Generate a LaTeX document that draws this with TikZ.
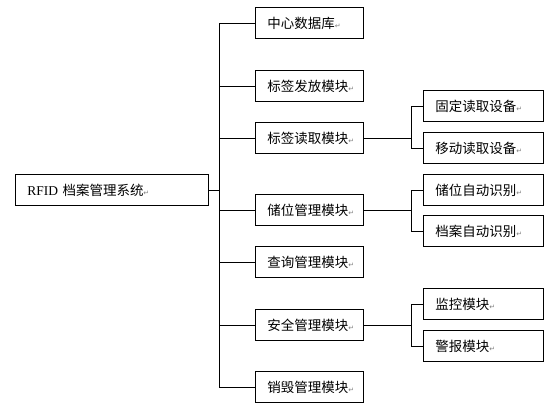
\documentclass[tikz,border=0pt]{standalone}
\usepackage{fontspec}
\setmainfont{Liberation Serif}
\newfontfamily\cjk{Noto Sans CJK SC}
\newfontfamily\symfont{DejaVu Sans}
\newcommand{\retmark}{{\symfont\fontsize{6}{6}\selectfont\color{gray}↵}}
\begin{document}
\begin{tikzpicture}[x=0.03cm,y=-0.03cm,
    box/.style={shape=rectangle,draw=black,line width=0.8pt,anchor=west,
        minimum height=0.93cm,inner xsep=0.36cm,align=left,
        font=\cjk\fontsize{11.5}{13}\selectfont},
    mainbox/.style={box,text width=2.52cm},
    subbox/.style={box,text width=2.88cm},
    rootbox/.style={box,text width=5.07cm},
    link/.style={line width=0.8pt}]
                \useasboundingbox (0,0) rectangle (560,420);

                \node[rootbox] (root) at (15,190) {{\rmfamily RFID} 档案管理系统\retmark};

                \node[mainbox] (db) at (255,23) {中心数据库\retmark};
                \node[mainbox] (issue) at (255,86) {标签发放模块\retmark};
                \node[mainbox] (read) at (255,138) {标签读取模块\retmark};
                \node[mainbox] (store) at (255,210) {储位管理模块\retmark};
                \node[mainbox] (query) at (255,262) {查询管理模块\retmark};
                \node[mainbox] (safe) at (255,325) {安全管理模块\retmark};
                \node[mainbox] (destroy) at (255,387) {销毁管理模块\retmark};

                \node[subbox] (fixed) at (423,106) {固定读取设备\retmark};
                \node[subbox] (mobile) at (423,148) {移动读取设备\retmark};
                \node[subbox] (slot) at (423,190) {储位自动识别\retmark};
                \node[subbox] (file) at (423,231) {档案自动识别\retmark};
                \node[subbox] (watch) at (423,304) {监控模块\retmark};
                \node[subbox] (alarm) at (423,346) {警报模块\retmark};

                \coordinate (trunk) at (219,0);
                \coordinate (fork) at (411,0);

                % root to the modules
                \draw[link] (root.east) -- (root.east -| trunk);
                \draw[link] (db.west -| trunk) -- (destroy.west -| trunk);
                \draw[link] (db.west) -- (db.west -| trunk);
                \draw[link] (issue.west) -- (issue.west -| trunk);
                \draw[link] (read.west) -- (read.west -| trunk);
                \draw[link] (store.west) -- (store.west -| trunk);
                \draw[link] (query.west) -- (query.west -| trunk);
                \draw[link] (safe.west) -- (safe.west -| trunk);
                \draw[link] (destroy.west) -- (destroy.west -| trunk);

                % modules to their parts
                \draw[link] (read.east) -- (read.east -| fork);
                \draw[link] (fixed.west -| fork) -- (mobile.west -| fork);
                \draw[link] (fixed.west) -- (fixed.west -| fork);
                \draw[link] (mobile.west) -- (mobile.west -| fork);

                \draw[link] (store.east) -- (store.east -| fork);
                \draw[link] (slot.west -| fork) -- (file.west -| fork);
                \draw[link] (slot.west) -- (slot.west -| fork);
                \draw[link] (file.west) -- (file.west -| fork);

                \draw[link] (safe.east) -- (safe.east -| fork);
                \draw[link] (watch.west -| fork) -- (alarm.west -| fork);
                \draw[link] (watch.west) -- (watch.west -| fork);
                \draw[link] (alarm.west) -- (alarm.west -| fork);

            \end{tikzpicture}
\end{document}
